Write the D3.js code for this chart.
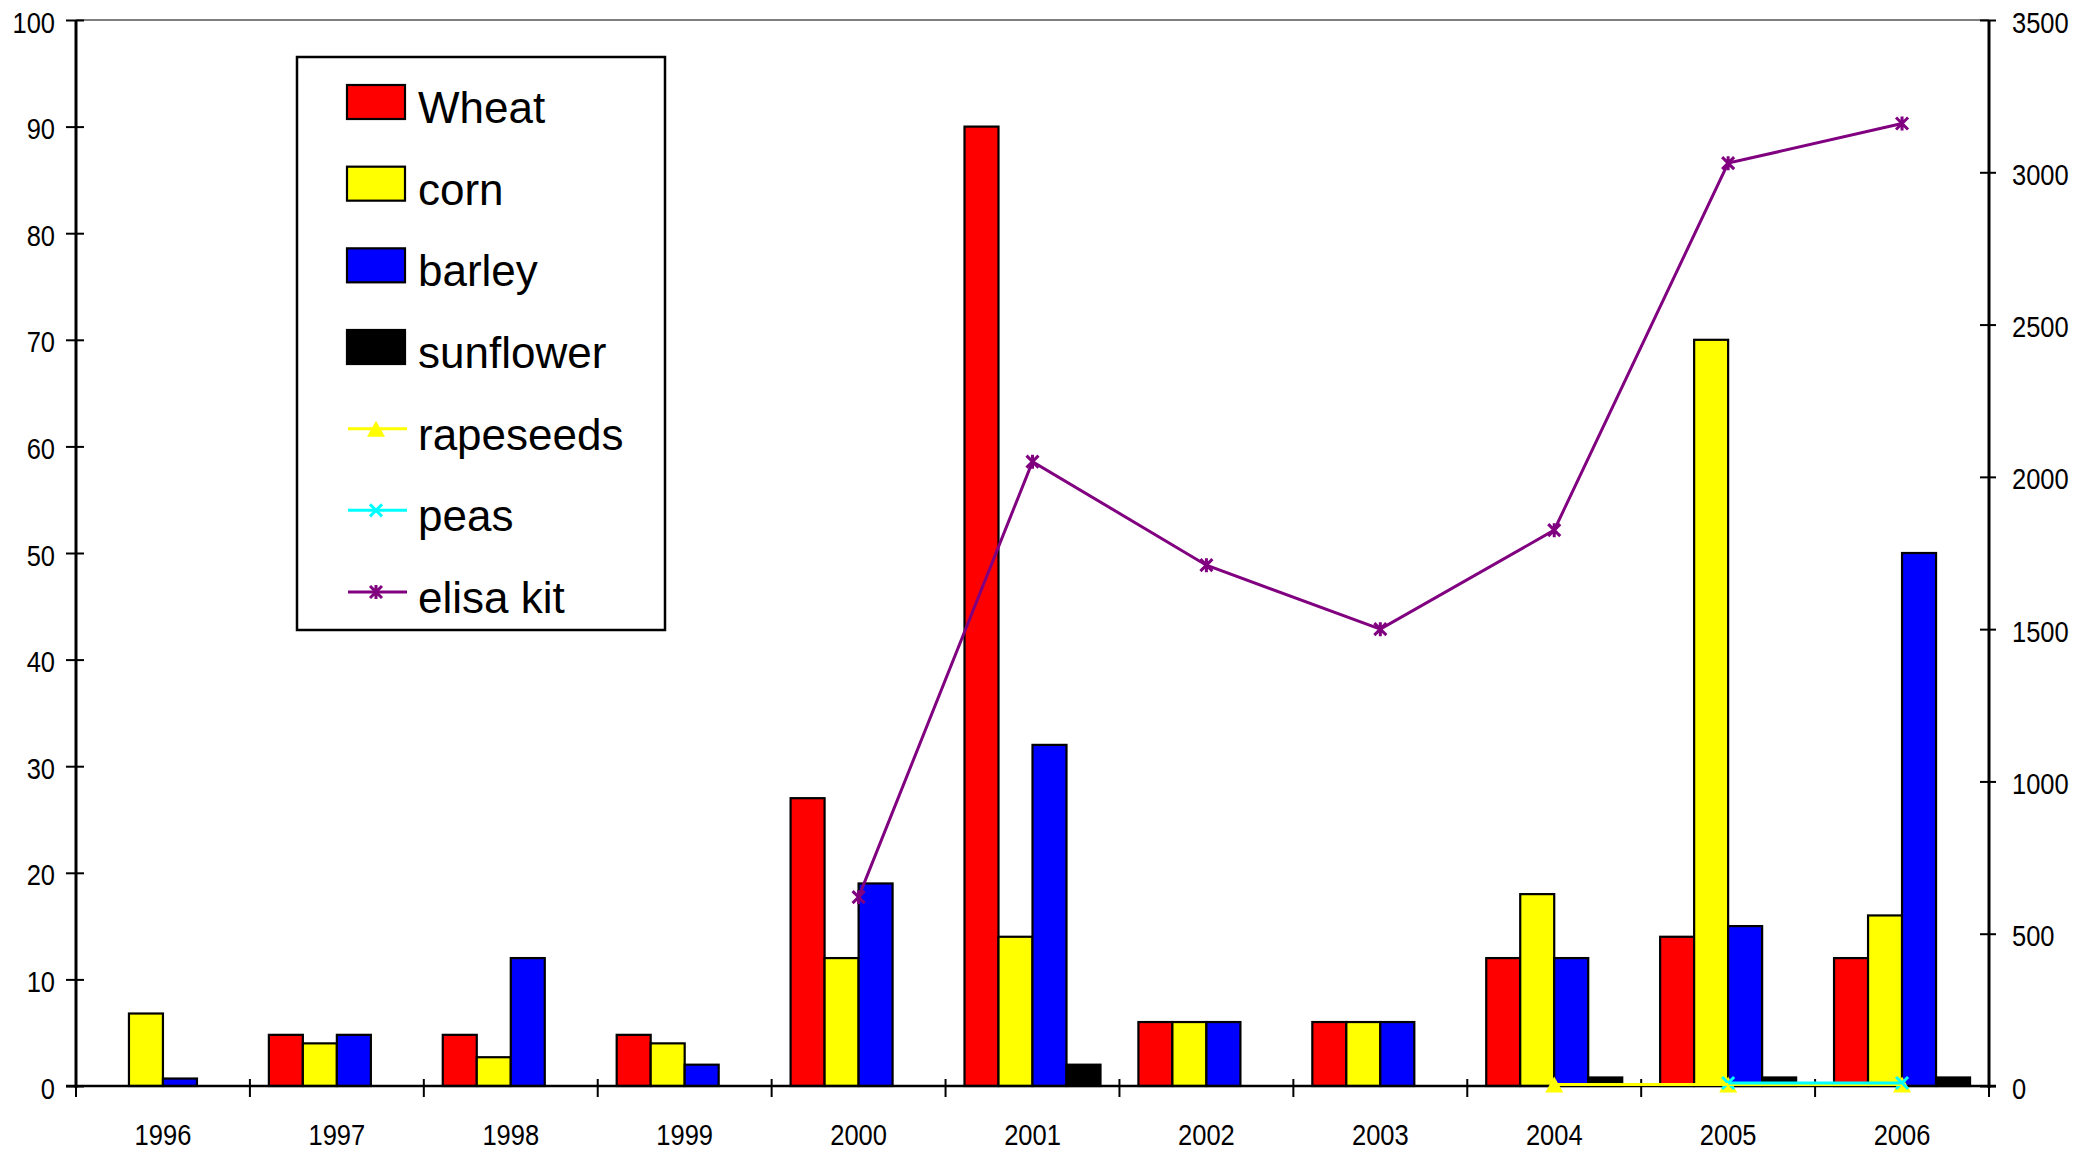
<!DOCTYPE html>
<html>
<head>
<meta charset="utf-8">
<script src="https://cdn.jsdelivr.net/npm/d3@7"></script>
<style>
  html, body { margin: 0; padding: 0; background: #fff; }
  svg { display: block; }
  .tick-label { font-family: "Liberation Sans", Arial, sans-serif; font-size: 30px; fill: #000; }
  .legend-label { font-family: "Liberation Sans", Arial, sans-serif; font-size: 44px; fill: #000; }
</style>
</head>
<body>
<svg id="chart" width="2076" height="1153"></svg>
<script>
// ---- data ----
const years = ["1996","1997","1998","1999","2000","2001","2002","2003","2004","2005","2006"];
const barSeries = ["Wheat","corn","barley","sunflower"];
const wheat     = [0, 4.8, 4.8, 4.8, 27, 90, 6, 6, 12, 14, 12];
const corn      = [6.8, 4, 2.7, 4, 12, 14, 6, 6, 18, 70, 16];
const barley    = [0.7, 4.8, 12, 2, 19, 32, 6, 6, 12, 15, 50];
const sunflower = [0, 0, 0, 0, 0, 2, 0, 0, 0.8, 0.8, 0.8];
const rapeseeds = [null, null, null, null, null, null, null, null, 5, 5, 5];
const peas      = [null, null, null, null, null, null, null, null, null, 10, 10];
const elisa     = [null, null, null, null, 620, 2050, 1710, 1500, 1825, 3030, 3160];
const leftTicks  = [0,10,20,30,40,50,60,70,80,90,100];
const rightTicks = [0,500,1000,1500,2000,2500,3000,3500];

const barColors = { "Wheat": "#ff0000", "corn": "#ffff00", "barley": "#0000ff", "sunflower": "#000000" };
const barData = { "Wheat": wheat, "corn": corn, "barley": barley, "sunflower": sunflower };

// ---- layout ----
const svg = d3.select("#chart");
const L = 76, R = 1989, T = 20, B = 1086;
const NARROW = 0.85;

const x = d3.scaleBand().domain(years).range([L, R]).paddingInner(0).paddingOuter(0);
const bw = x.bandwidth();
const xs = d3.scaleBand().domain(barSeries).range([bw * 0.109, bw * 0.891]).padding(0);
const yL = d3.scaleLinear().domain([0, 100]).range([B, T]);
const yR = d3.scaleLinear().domain([0, 3500]).range([B, T]);

// top border
svg.append("line").attr("x1", L).attr("x2", R).attr("y1", T).attr("y2", T)
  .attr("stroke", "#000").attr("stroke-width", 1.2);

// bars
const bars = [];
years.forEach((yr, i) => {
  barSeries.forEach(s => {
    const v = barData[s][i];
    if (v > 0) bars.push({ yr, s, v });
  });
});
svg.append("g").selectAll("rect").data(bars).join("rect")
  .attr("x", d => x(d.yr) + xs(d.s))
  .attr("width", xs.bandwidth())
  .attr("y", d => yL(d.v))
  .attr("height", d => B - yL(d.v))
  .attr("fill", d => barColors[d.s])
  .attr("stroke", "#000")
  .attr("stroke-width", 2.2);

function narrowText(sel, tx, ty) {
  sel.attr("class", "tick-label").attr("font-family", null).attr("font-size", null)
    .attr("x", 0).attr("y", 0)
    .attr("transform", `translate(${tx},${ty}) scale(${NARROW},1)`);
}

// left axis
const axL = svg.append("g").attr("transform", `translate(${L},0)`)
  .call(d3.axisLeft(yL).tickValues(leftTicks).tickSize(10).tickPadding(0).tickFormat(d3.format("d")));
axL.select(".domain").remove();
axL.attr("font-family", null).attr("font-size", null);
axL.selectAll(".tick line").attr("x1", -10).attr("x2", 8).attr("stroke-width", 2);
axL.selectAll(".tick text").call(narrowText, -21, 0).attr("dy", "0.4em");
svg.append("line").attr("x1", L).attr("x2", L).attr("y1", T).attr("y2", B + 2)
  .attr("stroke", "#000").attr("stroke-width", 3);

// right axis
const axR = svg.append("g").attr("transform", `translate(${R},0)`)
  .call(d3.axisRight(yR).tickValues(rightTicks).tickSize(8).tickPadding(0).tickFormat(d3.format("d")));
axR.select(".domain").remove();
axR.attr("font-family", null).attr("font-size", null);
axR.selectAll(".tick line").attr("x1", -9).attr("x2", 7).attr("stroke-width", 2);
axR.selectAll(".tick text").call(narrowText, 23, 0).attr("dy", "0.4em");
svg.append("line").attr("x1", R).attr("x2", R).attr("y1", T).attr("y2", B + 2)
  .attr("stroke", "#000").attr("stroke-width", 3);

// bottom axis
const axB = svg.append("g").attr("transform", `translate(0,${B})`)
  .call(d3.axisBottom(x).tickSize(0).tickPadding(0));
axB.select(".domain").remove();
axB.attr("font-family", null).attr("font-size", null);
axB.selectAll(".tick text").call(narrowText, 0, 59).attr("dy", 0);
svg.append("line").attr("x1", L - 10).attr("x2", R + 7).attr("y1", B).attr("y2", B)
  .attr("stroke", "#000").attr("stroke-width", 2.5);
const bounds = years.map(y => x(y)).concat([x.range()[1]]);
svg.append("g").selectAll("line").data(bounds).join("line")
  .attr("x1", d => d).attr("x2", d => d)
  .attr("y1", B - 7).attr("y2", B + 11)
  .attr("stroke", "#000").attr("stroke-width", 2);

// lines
const cx = i => x(years[i]) + bw / 2;
function drawLine(vals, color, width) {
  const pts = vals.map((v, i) => ({ i, v })).filter(d => d.v !== null);
  const line = d3.line().x(d => cx(d.i)).y(d => yR(d.v));
  svg.append("path").datum(pts).attr("d", line)
    .attr("fill", "none").attr("stroke", color).attr("stroke-width", width);
  return pts;
}
function triangle(g, px, py, color) {
  g.append("path").attr("d", `M${px},${py - 8}L${px + 9},${py + 8}L${px - 9},${py + 8}Z`).attr("fill", color);
}
function cross(g, px, py, color, s) {
  g.append("path").attr("d", `M${px - s},${py - s}L${px + s},${py + s}M${px - s},${py + s}L${px + s},${py - s}`)
    .attr("stroke", color).attr("stroke-width", 3).attr("fill", "none");
}
function star(g, px, py, color, s) {
  g.append("path").attr("d", `M${px - s},${py - s}L${px + s},${py + s}M${px - s},${py + s}L${px + s},${py - s}M${px},${py - s - 1}L${px},${py + s + 1}`)
    .attr("stroke", color).attr("stroke-width", 3).attr("fill", "none");
}

const mk = svg.append("g");
const rp = drawLine(rapeseeds, "#ffff00", 3);
rp.forEach(d => triangle(mk, cx(d.i), yR(d.v), "#ffff00"));
const pp = drawLine(peas, "#00ffff", 3);
pp.forEach(d => cross(mk, cx(d.i), yR(d.v), "#00ffff", 6));
const ep = drawLine(elisa, "#800080", 3);
ep.forEach(d => star(mk, cx(d.i), yR(d.v), "#800080", 6));

// legend
const legendItems = [
  { name: "Wheat", type: "bar", color: "#ff0000" },
  { name: "corn", type: "bar", color: "#ffff00" },
  { name: "barley", type: "bar", color: "#0000ff" },
  { name: "sunflower", type: "bar", color: "#000000" },
  { name: "rapeseeds", type: "tri", color: "#ffff00" },
  { name: "peas", type: "x", color: "#00ffff" },
  { name: "elisa kit", type: "star", color: "#800080" }
];
const lg = svg.append("g");
lg.append("rect").attr("x", 297).attr("y", 57).attr("width", 368).attr("height", 573)
  .attr("fill", "#fff").attr("stroke", "#000").attr("stroke-width", 2.5);
const rowY = d3.scaleLinear().domain([0, 6]).range([102, 592]);
legendItems.forEach((it, i) => {
  const cy = rowY(i);
  if (it.type === "bar") {
    lg.append("rect").attr("x", 347).attr("y", cy - 17).attr("width", 58).attr("height", 34)
      .attr("fill", it.color).attr("stroke", "#000").attr("stroke-width", 2.2);
  } else {
    lg.append("line").attr("x1", 348).attr("x2", 407).attr("y1", cy).attr("y2", cy)
      .attr("stroke", it.color).attr("stroke-width", 3);
    if (it.type === "tri") triangle(lg, 376, cy, it.color);
    if (it.type === "x") cross(lg, 376, cy, it.color, 6);
    if (it.type === "star") star(lg, 376, cy, it.color, 6);
  }
  lg.append("text").attr("class", "legend-label").attr("x", 418).attr("y", cy + 21).text(it.name);
});
</script>
</body>
</html>
